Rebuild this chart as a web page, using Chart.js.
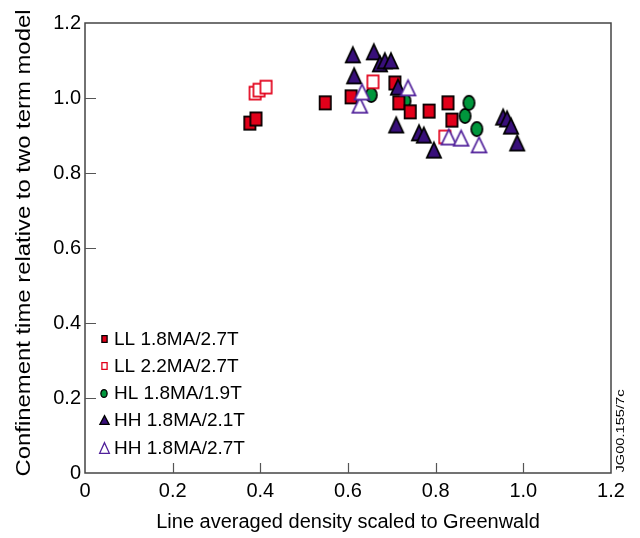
<!DOCTYPE html>
<html><head><meta charset="utf-8">
<script src="https://cdn.jsdelivr.net/npm/chart.js@4/dist/chart.umd.min.js"></script>
<style>html,body{margin:0;padding:0;background:#fff}</style>
</head><body>
<canvas id="c" width="640" height="538" style="display:block;width:640px;height:538px"></canvas>
<script>
// ---- data ----
const seriesLabels = ['LL 1.8MA/2.7T', 'LL 2.2MA/2.7T', 'HL 1.8MA/1.9T', 'HH 1.8MA/2.1T', 'HH 1.8MA/2.7T'];
const ll18X = [0.376, 0.390, 0.548, 0.607, 0.707, 0.716, 0.742, 0.785, 0.828, 0.837];
const ll18Y = [0.933, 0.944, 0.987, 1.003, 1.040, 0.987, 0.963, 0.965, 0.987, 0.941];
const ll22X = [0.388, 0.397, 0.413, 0.657, 0.821];
const ll22Y = [1.013, 1.021, 1.029, 1.043, 0.896];
const hl18X = [0.653, 0.730, 0.867, 0.876, 0.894];
const hl18Y = [1.008, 0.992, 0.952, 0.987, 0.917];
const hh21X = [0.611, 0.614, 0.659, 0.673, 0.684, 0.698, 0.710, 0.714, 0.762, 0.773, 0.796, 0.954, 0.963, 0.972, 0.986];
const hh21Y = [1.115, 1.059, 1.123, 1.091, 1.099, 1.099, 0.928, 1.029, 0.907, 0.901, 0.861, 0.949, 0.944, 0.925, 0.880];
const hh27X = [0.627, 0.632, 0.737, 0.830, 0.858, 0.899];
const hh27Y = [0.981, 1.016, 1.027, 0.896, 0.893, 0.875];
const xTicks = [0, 0.2, 0.4, 0.6, 0.8, 1.0, 1.2];
const yTicks = [0, 0.2, 0.4, 0.6, 0.8, 1.0, 1.2];
const xTitle = 'Line averaged density scaled to Greenwald';
const yTitle = 'Confinement time relative to two term model';
const figId = 'JG00.155/7c';

const FONT = "'Liberation Sans', Arial, sans-serif";
const RED = '#e2001a', PURPLE = '#380f7a', GREEN = '#00963c', PURPLE_L = '#50209a';

const pts = (xs, ys) => xs.map((x, i) => ({x, y: ys[i]}));
const fmt = v => (Math.abs(v) < 1e-9 ? '0' : Number(v).toFixed(1));

// marker images (the reference figure is slightly stretched vertically)
function marker(shape, w, h, fill, stroke, lw) {
  const c = document.createElement('canvas');
  c.width = Math.ceil(w) + 4; c.height = Math.ceil(h) + 4;
  const g = c.getContext('2d');
  const cx = c.width / 2, cy = c.height / 2, hw = (w - lw) / 2, hh = (h - lw) / 2;
  g.beginPath();
  if (shape === 'rect') g.rect(cx - hw, cy - hh, 2 * hw, 2 * hh);
  else if (shape === 'circle') g.ellipse(cx, cy, hw, hh, 0, 0, Math.PI * 2);
  else { g.moveTo(cx, cy - hh); g.lineTo(cx + hw, cy + hh); g.lineTo(cx - hw, cy + hh); g.closePath(); }
  g.fillStyle = fill; g.fill();
  g.lineWidth = lw; g.strokeStyle = stroke; g.lineJoin = 'miter'; g.stroke();
  return c;
}

const looks = [
  {shape: 'rect', w: 13, h: 15, lw: 1.7, fill: RED, stroke: '#000', lg: [6.5, 8]},
  {shape: 'rect', w: 13, h: 14.5, lw: 1.7, fill: '#fff', stroke: RED, lg: [6.5, 8]},
  {shape: 'circle', w: 13, h: 16, lw: 1.7, fill: GREEN, stroke: '#000', lg: [7.5, 9]},
  {shape: 'tri', w: 16, h: 17, lw: 1.7, fill: PURPLE, stroke: '#000', lg: [10.5, 10]},
  {shape: 'tri', w: 16.5, h: 17, lw: 1.7, fill: '#fff', stroke: PURPLE_L, lg: [11, 12]}
];
const orders = [4, 3, 5, 2, 1];
const dataSets = [pts(ll18X, ll18Y), pts(ll22X, ll22Y), pts(hl18X, hl18Y), pts(hh21X, hh21Y), pts(hh27X, hh27Y)];

const frame = {
  id: 'frame',
  beforeDatasetsDraw(chart) {
    const {ctx, chartArea: a, scales: {x, y}} = chart;
    ctx.save();
    ctx.strokeStyle = '#444';
    ctx.lineWidth = 1.5;
    ctx.strokeRect(a.left, a.top, a.right - a.left, a.bottom - a.top);
    ctx.lineWidth = 1.2;
    ctx.strokeStyle = '#555';
    ctx.beginPath();
    xTicks.slice(1, -1).forEach(v => { const px = Math.round(x.getPixelForValue(v)) + 0.5; ctx.moveTo(px, a.bottom); ctx.lineTo(px, a.bottom - 10); });
    yTicks.slice(1, -1).forEach(v => { const py = Math.round(y.getPixelForValue(v)) + 0.5; ctx.moveTo(a.left, py); ctx.lineTo(a.left + 11, py); });
    ctx.stroke();
    ctx.restore();
  },
  afterDraw(chart) {
    const {ctx} = chart;
    ctx.save();
    ctx.fillStyle = '#000';
    ctx.font = '21px ' + FONT;
    ctx.translate(24, 243);
    ctx.rotate(-Math.PI / 2);
    let w = ctx.measureText(yTitle).width;
    ctx.scale(467 / w, 1);
    ctx.textAlign = 'center'; ctx.textBaseline = 'middle';
    ctx.fillText(yTitle, 0, 0);
    ctx.restore();
    ctx.save();
    ctx.fillStyle = '#000';
    ctx.font = '11px ' + FONT;
    ctx.translate(621, 431);
    ctx.rotate(-Math.PI / 2);
    w = ctx.measureText(figId).width;
    ctx.scale(83 / w, 1);
    ctx.textAlign = 'center'; ctx.textBaseline = 'middle';
    ctx.fillText(figId, 0, 0);
    ctx.restore();
    // legend
    const rows = [339, 366, 393, 420, 448];
    ctx.save();
    chart.data.datasets.forEach((ds, i) => {
      const L = looks[i];
      const img = marker(L.shape, L.lg[0], L.lg[1], L.fill, L.stroke, 1.3);
      ctx.drawImage(img, Math.round(104 - img.width / 2), Math.round(rows[i] - img.height / 2));
      ctx.fillStyle = '#000';
      ctx.font = '19px ' + FONT;
      ctx.textAlign = 'left'; ctx.textBaseline = 'middle';
      ctx.fillText(ds.label, 114, rows[i] + 1);
    });
    ctx.restore();
  }
};

new Chart(document.getElementById('c'), {
  type: 'scatter',
  data: {datasets: dataSets.map((d, i) => {
    const L = looks[i];
    return {label: seriesLabels[i], data: d, order: orders[i],
      pointStyle: marker(L.shape, L.w, L.h, L.fill, L.stroke, L.lw),
      pointRadius: 8, pointHoverRadius: 8,
      backgroundColor: L.fill, borderColor: L.stroke};
  })},
  options: {
    responsive: false, animation: false, devicePixelRatio: 1,
    layout: {padding: {top: 23, right: 29, left: 0, bottom: 0}},
    plugins: {legend: {display: false}, tooltip: {enabled: false}},
    scales: {
      x: {
        type: 'linear', min: 0, max: 1.2,
        afterBuildTicks: s => { s.ticks = xTicks.map(v => ({value: v})); },
        afterFit: s => { s.height = 65; },
        grid: {display: false, drawTicks: false}, border: {display: false},
        ticks: {callback: fmt, font: {size: 20, family: FONT}, color: '#000', padding: 6, maxRotation: 0, autoSkip: false},
        title: {display: true, text: xTitle, color: '#000', font: {size: 20, family: FONT}, padding: {top: 0, bottom: 4}}
      },
      y: {
        type: 'linear', min: 0, max: 1.2,
        afterBuildTicks: s => { s.ticks = yTicks.map(v => ({value: v})); },
        afterFit: s => { s.width = 85; },
        grid: {display: false, drawTicks: false}, border: {display: false},
        ticks: {callback: fmt, font: {size: 20, family: FONT}, color: '#000', padding: 4, autoSkip: false}
      }
    }
  },
  plugins: [frame]
});
</script>
</body></html>
